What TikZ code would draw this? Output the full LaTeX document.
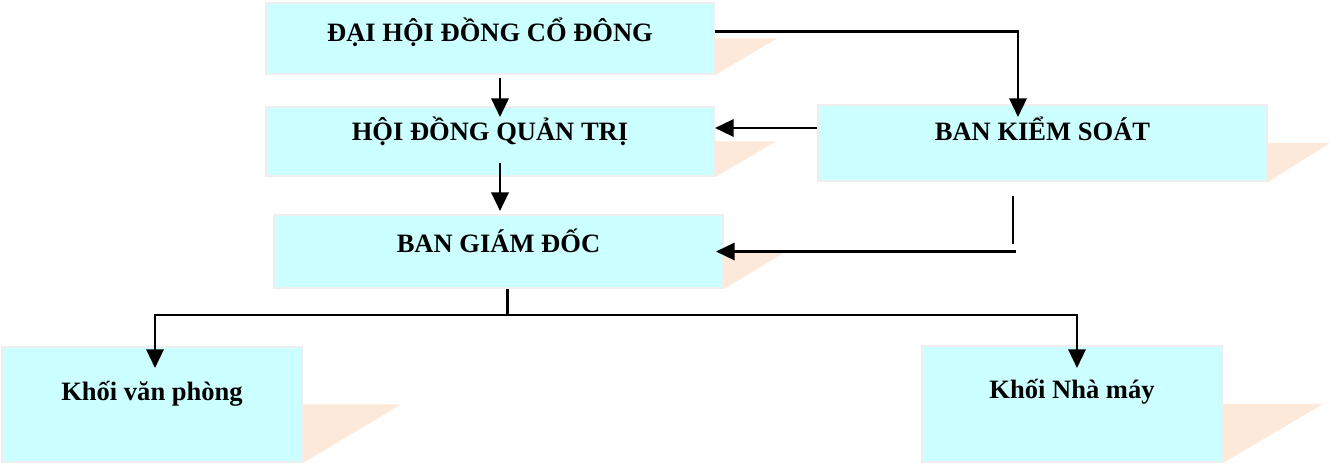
\documentclass[tikz,border=0pt]{standalone}
\usepackage{fontspec}
\setmainfont{Liberation Serif}
\usepackage{tikz}
\usetikzlibrary{calc}
\usetikzlibrary{arrows.meta}
\usetikzlibrary{backgrounds}

\definecolor{boxfill}{RGB}{204,255,255}
\definecolor{boxline}{RGB}{238,238,238}
\definecolor{peach}{RGB}{253,233,217}

\begin{document}
\begin{tikzpicture}[x=0.75pt,y=-0.75pt,
	box/.style={draw=boxline,line width=1.5pt,fill=boxfill,inner sep=0pt,
		font=\fontsize{19.9}{24}\selectfont\bfseries,text height=13.1pt},
	link/.style={line width=1.8pt},
	arr/.style={link,-{Triangle[length=14pt,width=13pt]}}]
	\useasboundingbox (0,0) rectangle (1329,463);
	\node[box,minimum width=336pt,minimum height=53.25pt,text depth=8.5pt] (dhcd) at (490,38.5) {ĐẠI HỘI ĐỒNG CỔ ĐÔNG};
	\node[box,minimum width=336pt,minimum height=51.75pt,text depth=13.9pt] (hdqt) at (490,141.5) {HỘI ĐỒNG QUẢN TRỊ};
	\node[box,minimum width=336.75pt,minimum height=57pt,text depth=16.1pt] (bks) at (1042.5,143) {BAN KIỂM SOÁT};
	\node[box,minimum width=336.75pt,minimum height=54.75pt,text depth=10.9pt] (bgd) at (498.5,251.5) {BAN GIÁM ĐỐC};
	\node[box,minimum width=225pt,minimum height=86.25pt,text depth=18.4pt] (kvp) at (152,404.5) {Khối văn phòng};
	\node[box,minimum width=225pt,minimum height=87pt,text depth=20.6pt] (knm) at (1072,404) {Khối Nhà máy};
	% bong do
	\begin{scope}[on background layer]
		\foreach \b/\w in {dhcd/62,hdqt/61,bks/62,bgd/62,kvp/98,knm/100}
			\fill[peach] (\b.east) -- ++(\w,0) -- (\b.south east) -- cycle;
	\end{scope}
	% mui ten
	\draw[arr] ($(dhcd.east)+(0,-7)$) -| ($(bks.north)+(-24.5,13)$);
	\draw[arr] ($(dhcd.south)+(10,3)$) -- ($(hdqt.north)+(10,11)$);
	\draw[arr] ($(bks.west)+(0,-15)$) -- ($(hdqt.east)+(0,-13.5)$);
	\draw[arr] ($(hdqt.south)+(10,-14)$) -- ($(bgd.north)+(1.5,-3)$);
	\draw[link] ($(bks.south)+(-29.5,14)$) -- ($(bks.south)+(-29.5,62)$);
	\draw[arr] ($(bks.south)+(-26.5,69.5)$) -- ($(bgd.east)+(-8,0)$);
	\draw[link] ($(bgd.south)+(9,0)$) -- ++(0,26) coordinate (nhanh);
	\draw[arr] (nhanh) -| ($(kvp.north)+(3,22)$);
	\draw[arr] (nhanh) -| ($(knm.north)+(5,23)$);
\end{tikzpicture}
\end{document}
